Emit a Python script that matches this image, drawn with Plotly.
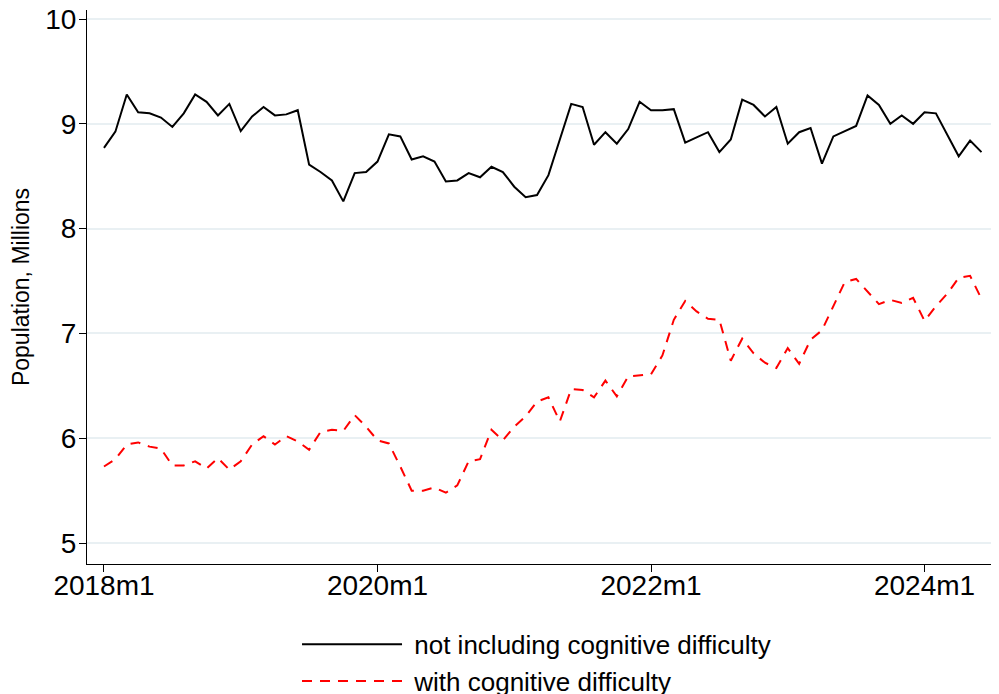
import plotly.graph_objects as go

start_year = 2018
n_months = 78
month_labels = [f"{start_year + i // 12}m{i % 12 + 1}" for i in range(n_months)]
month_index = list(range(n_months))

not_cognitive = [
    8.77, 8.925, 9.28, 9.11, 9.10, 9.06, 8.97, 9.10, 9.28, 9.21, 9.08, 9.19,
    8.93, 9.07, 9.16, 9.08, 9.09, 9.13, 8.61, 8.54, 8.46, 8.26, 8.53, 8.54,
    8.64, 8.90, 8.88, 8.66, 8.69, 8.64, 8.45, 8.46, 8.53, 8.49, 8.59, 8.54,
    8.40, 8.30, 8.32, 8.51, 8.85, 9.19, 9.16, 8.80, 8.92, 8.81, 8.95, 9.21,
    9.13, 9.13, 9.14, 8.82, 8.87, 8.92, 8.73, 8.85, 9.23, 9.18, 9.07, 9.16,
    8.81, 8.92, 8.96, 8.62, 8.88, 8.93, 8.98, 9.27, 9.18, 9.00, 9.08, 9.00,
    9.11, 9.10, 8.90, 8.69, 8.84, 8.73,
]

with_cognitive = [
    5.73, 5.80, 5.94, 5.96, 5.92, 5.90, 5.74, 5.74, 5.78, 5.71, 5.81, 5.70,
    5.78, 5.94, 6.02, 5.94, 6.02, 5.97, 5.89, 6.06, 6.08, 6.07, 6.22, 6.11,
    5.98, 5.95, 5.73, 5.50, 5.50, 5.53, 5.48, 5.55, 5.78, 5.80, 6.08, 5.98,
    6.11, 6.21, 6.35, 6.39, 6.16, 6.47, 6.46, 6.39, 6.55, 6.40, 6.59, 6.60,
    6.61, 6.79, 7.13, 7.31, 7.21, 7.14, 7.13, 6.74, 6.95, 6.81, 6.72, 6.67,
    6.86, 6.71, 6.94, 7.03, 7.26, 7.49, 7.52, 7.40, 7.28, 7.32, 7.29, 7.34,
    7.12, 7.26, 7.38, 7.53, 7.55, 7.33,
]

x_tick_vals = [0, 24, 48, 72]
x_tick_text = ["2018m1", "2020m1", "2022m1", "2024m1"]
y_tick_vals = [5, 6, 7, 8, 9, 10]

FONT = "Liberation Sans, Arial, sans-serif"
NBSP = "\u00a0"

fig = go.Figure()
fig.add_trace(go.Scatter(
    x=month_index, y=not_cognitive, mode="lines",
    name=NBSP + "not including cognitive difficulty",
    line=dict(color="black", width=2),
    legendgroup="a",
))
fig.add_trace(go.Scatter(
    x=month_index, y=with_cognitive, mode="lines",
    name=NBSP + "with cognitive difficulty",
    line=dict(color="#ff0000", width=2, dash="10px,8px"),
    legendgroup="b",
))

fig.update_layout(
    width=991, height=686,
    paper_bgcolor="white", plot_bgcolor="white",
    margin=dict(l=79, r=2, t=2, b=130, autoexpand=False),
    font=dict(family=FONT, size=26, color="black"),
    showlegend=True,
    legend=dict(
        x=0.2308, y=-0.1025, xanchor="left", yanchor="top",
        itemwidth=100, tracegroupgap=0,
        font=dict(family=FONT, size=26, color="black"),
        bgcolor="rgba(0,0,0,0)",
    ),
    xaxis=dict(
        range=[-1.49, 78.36], automargin=False,
        tickmode="array", tickvals=x_tick_vals, ticktext=x_tick_text,
        showgrid=False, zeroline=False,
        showline=True, linecolor="black", linewidth=1,
        ticks="outside", ticklen=7, tickcolor="black",
        ticklabelstandoff=-11,
        tickfont=dict(family=FONT, size=28, color="black"),
    ),
    yaxis=dict(
        range=[4.8, 10.086], automargin=False,
        tickmode="array", tickvals=y_tick_vals,
        showgrid=True, gridcolor="#e9f0f3", gridwidth=1.5,
        zeroline=False,
        showline=True, linecolor="black", linewidth=1,
        ticks="outside", ticklen=7, tickcolor="black",
        ticklabeloverflow="allow", ticklabelstandoff=-3,
        tickfont=dict(family=FONT, size=28, color="black"),
        title=dict(text="Population, Millions", font=dict(family=FONT, size=23, color="black"), standoff=31),
    ),
)

fig.write_html("out.html")
